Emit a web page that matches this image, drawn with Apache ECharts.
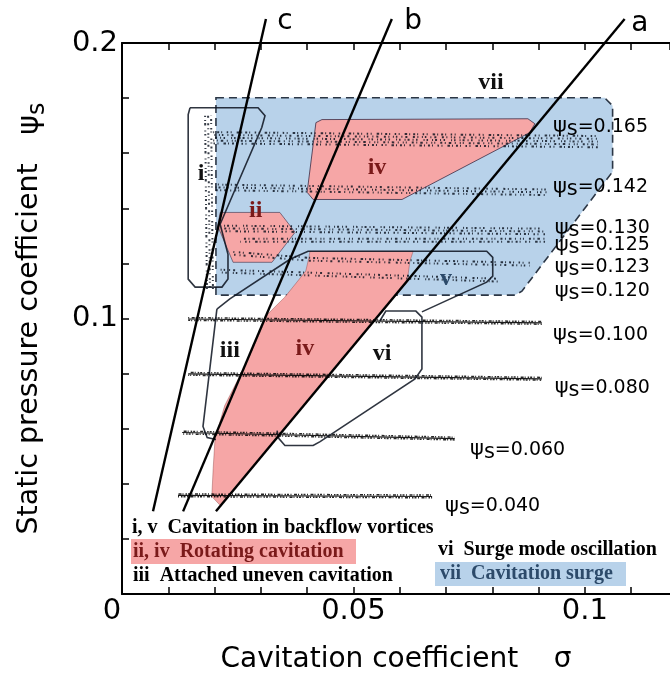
<!DOCTYPE html>
<html>
<head>
<meta charset="utf-8">
<script src="https://cdn.jsdelivr.net/npm/echarts@6/dist/echarts.min.js"></script>
<style>
  html, body { margin: 0; padding: 0; background: #fff; }
  #chart { width: 670px; height: 679px; }
</style>
</head>
<body>
<div id="chart"></div>
<script>
// psi_s of each measured run, as written next to the traces
var psiLevels = ['0.165', '0.142', '0.130', '0.125', '0.123', '0.120', '0.100', '0.080', '0.060', '0.040'];

var traces = [
  [[0.0197, 0.1656], [0.1028, 0.1642]],
  [[0.0201, 0.1476], [0.0920, 0.1458]],
  [[0.0216, 0.1327], [0.0914, 0.1316]],
  [[0.0255, 0.1284], [0.0914, 0.1284]],
  [[0.0238, 0.1237], [0.0406, 0.1215], [0.0881, 0.1197]],
  [[0.0212, 0.1172], [0.0816, 0.1139]],
  [[0.0143, 0.0998], [0.0907, 0.0984]],
  [[0.0143, 0.0799], [0.0907, 0.0781]],
  [[0.0130, 0.0586], [0.0719, 0.0564]],
  [[0.0121, 0.0358], [0.0670, 0.0354]]
];
// scatter column of region i (low sigma, psi falling)
var columnI = [[0.0190, 0.1107], [0.0186, 0.1736]];

// where each psi_s label starts
var psiLabelAt = [
  [0.0931, 0.1696], [0.0931, 0.1476], [0.0935, 0.1327], [0.0935, 0.1266], [0.0935, 0.1186],
  [0.0935, 0.1099], [0.0931, 0.0940], [0.0935, 0.0749], [0.0752, 0.0524], [0.0698, 0.0318]
];

// shaded regions
var regionVii = [[0.0203, 0.1801], [0.1043, 0.1801], [0.1060, 0.1772], [0.1060, 0.1533], [0.0864, 0.1099], [0.0849, 0.1085], [0.0203, 0.1085]];
var regionIvUpper = [[0.0432, 0.1722], [0.0877, 0.1725], [0.0892, 0.1707], [0.0881, 0.1675], [0.0605, 0.1432], [0.0413, 0.1432], [0.0400, 0.1458], [0.0419, 0.1711]];
var regionIi = [[0.0212, 0.1385], [0.0341, 0.1385], [0.0374, 0.1313], [0.0324, 0.1204], [0.0240, 0.1204], [0.0207, 0.1335]];
var regionIvLower = [[0.0406, 0.1244], [0.0629, 0.1244], [0.0622, 0.1208], [0.0616, 0.1132], [0.0238, 0.0373], [0.0212, 0.0322],
  [0.0194, 0.0354], [0.0197, 0.0456], [0.0201, 0.0564], [0.0222, 0.0684], [0.0270, 0.0843], [0.0315, 0.1016],
  [0.0352, 0.1078], [0.0397, 0.1172], [0.0404, 0.1222]];

// outlined regions
var outlineI = [[0.0147, 0.1765], [0.0294, 0.1765], [0.0309, 0.1736], [0.0302, 0.1693], [0.0212, 0.1342], [0.0229, 0.1233],
  [0.0229, 0.1143], [0.0216, 0.1114], [0.0158, 0.1114], [0.0143, 0.1143], [0.0143, 0.1740], [0.0147, 0.1765]];
var outlineV = [[0.0205, 0.1034], [0.0233, 0.1071], [0.0363, 0.1215], [0.0402, 0.1244], [0.0788, 0.1244], [0.0801, 0.1222],
  [0.0801, 0.1154], [0.0788, 0.1132], [0.0648, 0.1024]];
var outlineIii = [[0.0205, 0.1034], [0.0175, 0.0608], [0.0184, 0.0568], [0.0203, 0.0561]];
var outlineVi = [[0.0557, 0.0991], [0.0570, 0.1027], [0.0635, 0.1027], [0.0648, 0.1005], [0.0648, 0.0817], [0.0633, 0.0781],
  [0.0428, 0.0553], [0.0413, 0.0539], [0.0352, 0.0539], [0.0339, 0.0564], [0.0335, 0.0593]];

// operating lines a, b, c
var lineA = [[0.0203, 0.0300], [0.1086, 0.2087]];
var lineB = [[0.0132, 0.0300], [0.0583, 0.2087]];
var lineC = [[0.0067, 0.0300], [0.0311, 0.2087]];
var lineNames = ['a', 'b', 'c'];
var lineLabelAt = [[0.1119, 0.2069], [0.0629, 0.2076], [0.0352, 0.2076]];

// region numerals
var regionNames = ['vii', 'i', 'ii', 'iv', 'iv', 'iii', 'v', 'vi'];
var regionLabelAt = [[0.0797, 0.1855], [0.0171, 0.1526], [0.0289, 0.1392], [0.0551, 0.1548], [0.0395, 0.0890], [0.0233, 0.0882], [0.0700, 0.1143], [0.0562, 0.0872]];

// ---------- styles ----------
var PINK = '#f6a6a6';
var BLUE = '#b8d2ea';
var DARKRED = '#7a1a1a';
var DARKBLUE = '#2c4a6a';
var INK = 'rgba(5,12,25,0.8)';
var SERIF = '"Liberation Serif", "DejaVu Serif", serif';
var SANS = '"DejaVu Sans", sans-serif';

var fills = [
  { poly: regionVii, fill: BLUE, stroke: '#2b3645', dash: [8, 5], width: 1.6 },
  { poly: regionIvUpper, fill: PINK, stroke: 'rgba(60,45,70,0.8)', dash: null, width: 1 },
  { poly: regionIi, fill: PINK, stroke: 'rgba(60,45,70,0.6)', dash: null, width: 1 },
  { poly: regionIvLower, fill: PINK, stroke: 'rgba(120,40,40,0.35)', dash: null, width: 1 }
];
var outlines = [outlineI, outlineV, outlineIii, outlineVi];
var opLines = [lineA, lineB, lineC];
var traceRows = [5, 3, 3, 2, 2, 2, 1, 1, 1, 1];
var regionColors = ['#111', '#111', DARKRED, DARKRED, DARKRED, '#111', DARKBLUE, '#111'];
// uneven dash patterns so the bands read as scattered dots
var speckle = [
  [1, 3, 2, 2, 1, 4.5, 1.5, 2.5, 1, 5, 2.5, 2],
  [2, 2.5, 1, 3.5, 1, 2, 1.5, 4, 1, 3, 2, 5.5],
  [1.5, 4, 1, 2, 2, 3, 1, 2.5, 1.5, 6, 1, 2],
  [1, 2, 1, 5, 2, 2.5, 1, 3, 2.5, 3.5, 1, 4]
];
var jagged = [1.5, 1, 2, 1.5, 1, 2.5, 3, 1, 1, 2];

function pts(api, arr) {
  return arr.map(function (p) { return api.coord(p); });
}
function shift(arr, dx, dy) {
  return arr.map(function (p) { return [p[0] + dx, p[1] + dy]; });
}
function fmtEq(a, b) { return Math.abs(a - b) < 1e-9; }

var chart = echarts.init(document.getElementById('chart'), null, { renderer: 'canvas' });

chart.setOption({
  animation: false,
  backgroundColor: '#fff',
  grid: { left: 122, right: 0, top: 43, bottom: 83, containLabel: false },
  xAxis: [{
    type: 'value', min: 0, max: 0.1184, interval: 0.01, position: 'bottom',
    axisLine: { show: true, lineStyle: { color: '#000', width: 2 } },
    axisTick: { show: true, inside: true, length: 7, lineStyle: { color: '#000', width: 1.5 } },
    splitLine: { show: false },
    axisLabel: {
      margin: 3, color: '#000', fontFamily: SANS, fontSize: 29, showMaxLabel: false,
      formatter: function (v) {
        if (fmtEq(v, 0)) return '{z|0}';
        if (fmtEq(v, 0.05)) return '0.05';
        if (fmtEq(v, 0.1)) return '0.1';
        return '';
      },
      rich: { z: { fontFamily: SANS, fontSize: 29, color: '#000', padding: [0, 20, 0, 0] } }
    },
    name: 'Cavitation coefficient    σ',
    nameLocation: 'middle', nameGap: 52,
    nameTextStyle: { fontFamily: SANS, fontSize: 28, color: '#000' }
  }, {
    type: 'value', min: 0, max: 0.1184, interval: 0.01, position: 'top',
    axisLine: { show: true, lineStyle: { color: '#000', width: 2 } },
    axisTick: { show: true, inside: true, length: 7, lineStyle: { color: '#000', width: 1.5 } },
    axisLabel: { show: false }, splitLine: { show: false }
  }],
  yAxis: {
    type: 'value', min: 0, max: 0.2, interval: 0.02,
    axisLine: { show: true, lineStyle: { color: '#000', width: 2 } },
    axisTick: { show: true, inside: true, length: 7, lineStyle: { color: '#000', width: 1.5 } },
    splitLine: { show: false },
    axisLabel: {
      margin: 4, color: '#000', fontFamily: SANS, fontSize: 29,
      formatter: function (v) {
        if (fmtEq(v, 0.1)) return '0.1';
        if (fmtEq(v, 0.2)) return '0.2';
        return '';
      }
    },
    name: '{t|Static pressure coefficient}{p|   ψ}{s|s}',
    nameLocation: 'middle', nameRotate: 90, nameGap: 72,
    nameTextStyle: {
      rich: {
        t: { fontFamily: SANS, fontSize: 28.5, color: '#000', lineHeight: 40, verticalAlign: 'middle' },
        p: { fontFamily: SANS, fontSize: 30, color: '#000', lineHeight: 40, verticalAlign: 'middle' },
        s: { fontFamily: SANS, fontSize: 24, color: '#000', lineHeight: 24, verticalAlign: 'bottom' }
      }
    }
  },
  graphic: [
    { type: 'text', left: 132, top: 518, style: { text: 'i, v  Cavitation in backflow vortices', font: 'bold 20px ' + SERIF, fill: '#000' } },
    { type: 'rect', left: 131, top: 539, shape: { width: 225, height: 25 }, style: { fill: PINK } },
    { type: 'text', left: 133, top: 542, style: { text: 'ii, iv  Rotating cavitation', font: 'bold 20px ' + SERIF, fill: DARKRED } },
    { type: 'text', left: 133, top: 566, style: { text: 'iii  Attached uneven cavitation', font: 'bold 20px ' + SERIF, fill: '#000' } },
    { type: 'text', left: 438, top: 540, style: { text: 'vi  Surge mode oscillation', font: 'bold 20px ' + SERIF, fill: '#000' } },
    { type: 'rect', left: 435, top: 562, shape: { width: 191, height: 24 }, style: { fill: BLUE } },
    { type: 'text', left: 440, top: 564, style: { text: 'vii  Cavitation surge', font: 'bold 20px ' + SERIF, fill: DARKBLUE } }
  ],
  series: [
    {
      // shaded regions
      type: 'custom', coordinateSystem: 'cartesian2d', clip: false, z: 2, silent: true,
      data: fills.map(function (f) { return f.poly[0]; }),
      renderItem: function (params, api) {
        var f = fills[params.dataIndex];
        return {
          type: 'polygon', shape: { points: pts(api, f.poly) },
          style: { fill: f.fill, stroke: f.stroke, lineWidth: f.width, lineDash: f.dash }
        };
      }
    },
    {
      // measured runs
      type: 'custom', coordinateSystem: 'cartesian2d', clip: false, z: 3, silent: true,
      data: traces.map(function (t) { return t[0]; }),
      renderItem: function (params, api) {
        var i = params.dataIndex;
        var p = pts(api, traces[i]);
        var rows = traceRows[i];
        var kids = [];
        if (rows === 1) {
          kids.push({ type: 'polyline', shape: { points: p }, style: { stroke: 'rgba(0,0,0,0.9)', lineWidth: 1.1, fill: 'none' } });
          [-1.4, 1.3].forEach(function (d, k) {
            kids.push({ type: 'polyline', shape: { points: shift(p, 0, d) },
              style: { stroke: 'rgba(0,0,0,0.85)', lineWidth: 1.5, lineDash: jagged, lineDashOffset: k * 4.5 + i, fill: 'none' } });
          });
        } else {
          for (var r = 0; r < rows; r++) {
            var d = (r - (rows - 1) / 2) * 2.8;
            kids.push({ type: 'polyline', shape: { points: shift(p, 0, d) },
              style: { stroke: INK, lineWidth: 2, lineDash: speckle[(r + i) % 4], lineDashOffset: r * 3.3 + i * 1.7, fill: 'none' } });
          }
        }
        return { type: 'group', children: kids };
      }
    },
    {
      // region i column
      type: 'custom', coordinateSystem: 'cartesian2d', clip: false, z: 3, silent: true,
      data: [columnI[0]],
      renderItem: function (params, api) {
        var p = pts(api, columnI);
        var kids = [];
        for (var r = 0; r < 3; r++) {
          kids.push({ type: 'polyline', shape: { points: shift(p, (r - 1) * 3, 0) },
            style: { stroke: INK, lineWidth: 2, lineDash: speckle[r], lineDashOffset: r * 2.7, fill: 'none' } });
        }
        return { type: 'group', children: kids };
      }
    },
    {
      // outlined regions
      type: 'custom', coordinateSystem: 'cartesian2d', clip: false, z: 4, silent: true,
      data: outlines.map(function (o) { return o[0]; }),
      renderItem: function (params, api) {
        return { type: 'polyline', shape: { points: pts(api, outlines[params.dataIndex]) },
          style: { stroke: 'rgba(10,18,30,0.85)', lineWidth: 1.6, fill: 'none' } };
      }
    },
    {
      // operating lines
      type: 'custom', coordinateSystem: 'cartesian2d', clip: false, z: 5, silent: true,
      data: opLines.map(function (l) { return l[0]; }),
      renderItem: function (params, api) {
        var i = params.dataIndex;
        var p = pts(api, opLines[i]);
        var q = api.coord(lineLabelAt[i]);
        return { type: 'group', children: [
          { type: 'line', shape: { x1: p[0][0], y1: p[0][1], x2: p[1][0], y2: p[1][1] }, style: { stroke: '#000', lineWidth: 2.4 } },
          { type: 'text', x: q[0], y: q[1], style: { text: lineNames[i], fontFamily: SANS, fontSize: 28, fill: '#000', align: 'center', verticalAlign: 'middle' } }
        ] };
      }
    },
    {
      // region numerals
      type: 'custom', coordinateSystem: 'cartesian2d', clip: false, z: 6, silent: true,
      data: regionLabelAt,
      renderItem: function (params, api) {
        var i = params.dataIndex;
        var q = api.coord(regionLabelAt[i]);
        return { type: 'text', x: q[0], y: q[1], style: { text: regionNames[i], fontFamily: SERIF, fontWeight: 'bold', fontSize: 24,
          fill: regionColors[i], align: 'center', verticalAlign: 'middle' } };
      }
    },
    {
      // psi_s labels
      type: 'custom', coordinateSystem: 'cartesian2d', clip: false, z: 6, silent: true,
      data: psiLabelAt,
      renderItem: function (params, api) {
        var i = params.dataIndex;
        var q = api.coord(psiLabelAt[i]);
        return { type: 'text', x: q[0], y: q[1], style: {
          text: '{p|ψ}{s|s}{n|=' + psiLevels[i] + '}',
          align: 'left', verticalAlign: 'middle',
          rich: {
            p: { fontFamily: SANS, fontSize: 21, fill: '#000', lineHeight: 26, verticalAlign: 'middle' },
            s: { fontFamily: SANS, fontSize: 21, fill: '#000', lineHeight: 18, verticalAlign: 'bottom' },
            n: { fontFamily: SANS, fontSize: 19, fill: '#000', lineHeight: 26, verticalAlign: 'middle' }
          }
        } };
      }
    }
  ]
});
</script>
</body>
</html>
